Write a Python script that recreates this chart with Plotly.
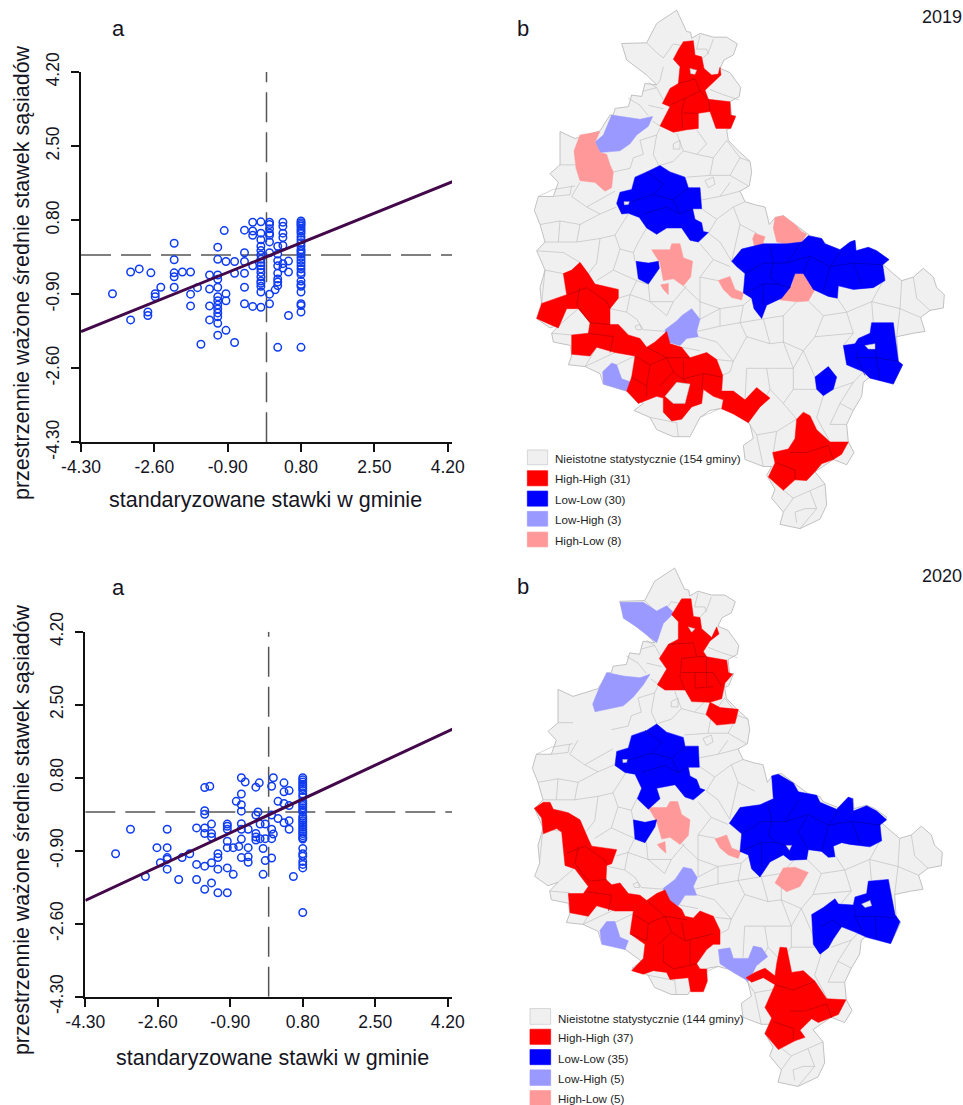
import plotly.graph_objects as go

W, H = 963, 1105
TICK_VALS = [-4.3, -2.6, -0.9, 0.8, 2.5, 4.2]
TICK_TEXT = ["-4.30", "-2.60", "-0.90", "0.80", "2.50", "4.20"]
Y_TITLE = "przestrzennie ważone średnie stawek sąsiadów"
X_TITLE = "standaryzowane stawki w gminie"

LINE_2019_X = [-4.3, 4.33]
LINE_2019_Y = [-1.76, 1.69]
LINE_2020_X = [-4.3, 4.33]
LINE_2020_Y = [-2.06, 1.94]

POINTS_2019 = [
 (-3.57,-0.89),(-3.15,-0.39),(-2.95,-0.32),(-3.15,-1.49),(-2.75,-1.31),(-2.75,-1.39),(-2.68,-0.41),
 (-2.45,-0.74),(-2.58,-0.89),(-2.58,-0.96),(-2.14,0.27),(-2.14,-0.11),(-2.14,-0.41),(-2.14,-0.5),
 (-2.14,-0.74),(-1.95,-0.39),(-1.76,-0.39),(-1.76,-0.9),(-1.76,-1.17),(-1.6,-0.75),(-1.32,-0.46),
 (-1.32,-0.78),(-1.32,-1.17),(-1.32,-1.49),(-1.52,-2.05),(-1.13,0.18),(-1.13,-0.1),(-1.13,-0.46),
 (-1.13,-0.56),(-1.13,-0.74),(-1.13,-0.96),(-1.13,-1.05),(-1.13,-1.15),(-1.13,-1.24),(-1.13,-1.33),
 (-1.13,-1.42),(-1.13,-1.57),(-1.13,-1.84),(-0.98,0.56),(-0.94,-0.15),(-0.94,-0.89),(-0.94,-1.05),
 (-0.94,-1.73),(-0.74,-0.15),(-0.74,-0.42),(-0.74,-2.01),(-0.51,0.57),(-0.51,0.05),(-0.51,-0.15),
 (-0.51,-0.42),(-0.51,-0.74),(-0.51,-1.12),(-0.32,0.75),(-0.32,0.55),(-0.32,0.45),(-0.32,-0.25),
 (-0.32,-1.18),(-0.13,0.76),(-0.13,0.5),(-0.13,0.35),(-0.13,0.2),(-0.13,0.1),(-0.13,0.0),(-0.13,-0.1),
 (-0.13,-0.18),(-0.13,-0.25),(-0.13,-0.32),(-0.13,-0.4),(-0.13,-0.5),(-0.13,-0.6),(-0.13,-0.65),
 (-0.13,-0.72),(-0.13,-0.85),(-0.13,-1.2),(0.07,0.75),(0.07,0.7),(0.07,0.6),(0.07,0.5),(0.07,0.45),
 (0.07,0.3),(0.07,0.05),(0.07,-0.9),(0.07,-1.12),(0.2,-0.8),(0.26,0.2),(0.26,0.02),(0.26,-0.13),
 (0.26,-0.25),(0.26,-0.42),(0.26,-0.55),(0.26,-0.62),(0.26,-0.7),(0.26,-2.12),(0.38,0.75),(0.38,0.66),
 (0.38,0.5),(0.38,0.4),(0.38,0.22),(0.38,-0.2),(0.38,-0.3),(0.51,-0.14),(0.51,-0.39),(0.51,-1.39),
 (0.8,0.78),(0.8,0.74),(0.8,0.7),(0.8,0.66),(0.8,0.6),(0.8,0.55),(0.8,0.5),(0.8,0.42),(0.8,0.35),
 (0.8,0.28),(0.8,0.2),(0.8,0.12),(0.8,0.08),(0.8,0.03),(0.8,-0.05),(0.8,-0.12),(0.8,-0.18),(0.8,-0.25),
 (0.8,-0.32),(0.8,-0.4),(0.8,-0.45),(0.8,-0.6),(0.8,-0.68),(0.8,-0.72),(0.8,-0.85),(0.8,-1.12),
 (0.8,-1.16),(0.8,-1.31),(0.8,-2.12),
]

POINTS_2020 = [
 (-3.59,-0.97),(-3.24,-0.4),(-2.89,-1.5),(-2.62,-0.83),(-2.54,-1.18),(-2.38,-0.4),(-2.38,-0.83),
 (-2.38,-1.06),(-2.38,-1.1),(-2.38,-1.33),(-2.11,-1.57),(-2.03,-1.06),(-1.85,-0.97),(-1.69,-0.37),
 (-1.69,-1.22),(-1.69,-1.57),(-1.5,0.57),(-1.5,0.03),(-1.5,-0.05),(-1.5,-0.37),(-1.5,-0.5),(-1.5,-1.26),
 (-1.5,-1.8),(-1.38,0.6),(-1.34,-0.28),(-1.34,-0.5),(-1.34,-0.58),(-1.34,-1.18),(-1.34,-1.65),
 (-1.19,-0.97),(-1.19,-1.06),(-1.19,-1.33),(-1.19,-1.88),(-0.97,-0.28),(-0.97,-0.33),(-0.97,-0.4),
 (-0.97,-0.68),(-0.97,-0.83),(-0.97,-1.3),(-0.97,-1.88),(-0.83,-1.45),(-0.83,-0.83),(-0.76,0.25),
 (-0.7,-0.8),(-0.64,0.8),(-0.64,0.42),(-0.64,0.17),(-0.64,0.02),(-0.64,-0.27),(-0.64,-0.4),(-0.64,-0.63),
 (-0.64,-1.06),(-0.55,0.7),(-0.48,-0.4),(-0.48,-0.83),(-0.48,-1.04),(-0.48,-1.17),(-0.3,0.58),(-0.3,-0.07),
 (-0.3,-0.5),(-0.3,-0.58),(-0.3,-0.65),(-0.22,0.68),(-0.25,0.0),(-0.2,-0.28),(-0.2,-0.62),(-0.13,-0.85),
 (-0.13,-1.45),(-0.08,-1.13),(-0.08,-0.28),(-0.08,-0.62),(0.07,0.6),(0.07,-0.07),(0.07,-0.4),(0.07,-0.62),
 (0.11,0.8),(0.07,-1.07),(0.11,-0.51),(0.22,0.25),(0.22,-0.15),(0.36,0.68),(0.36,0.47),(0.36,0.2),
 (0.36,-0.25),(0.48,0.5),(0.48,0.15),(0.48,-0.2),(0.48,-0.4),(0.58,-1.5),
 (0.8,0.8),(0.8,0.75),(0.8,0.7),(0.8,0.65),(0.8,0.6),(0.8,0.55),(0.8,0.5),(0.8,0.42),(0.8,0.35),(0.8,0.25),
 (0.8,0.2),(0.8,0.15),(0.8,0.1),(0.8,0.05),(0.8,0.0),(0.8,-0.1),(0.8,-0.15),(0.8,-0.2),(0.8,-0.25),
 (0.8,-0.3),(0.8,-0.35),(0.8,-0.4),(0.8,-0.45),(0.8,-0.5),(0.8,-0.55),(0.8,-0.6),(0.8,-0.63),(0.8,-0.85),
 (0.8,-0.97),(0.8,-1.03),(0.8,-1.15),(0.8,-1.22),(0.8,-1.3),(0.8,-2.34),
]

# Map outline and municipality boundaries (shared by both years)
OUTLINE = [(530,29),(548,66),(560,90),(572,92),(575,109),(600,95),(640,106),(680,106),(712,125),(700,157),(672,171),(660,195),(690,207),
 (722,249),(718,275),(690,290),(695,330),(707,330),(692,365),(680,370),(685,400),(715,430),(750,460),(755,490),(748,530),
 (720,545),(735,575),(770,585),(795,590),(808,640),(825,620),(850,615),(885,640),(920,665),(930,672),(965,680),(975,695),
 (1020,712),(1050,690),(1065,685),(1068,715),(1105,705),(1130,715),(1167,740),(1150,755),(1180,780),(1205,800),(1240,790),
 (1270,765),(1300,790),(1310,820),(1333,840),(1330,878),(1290,885),(1262,905),(1275,945),(1240,950),(1190,960),(1195,1030),
 (1208,1040),(1180,1095),(1110,1075),(1090,1090),(1085,1130),(1060,1170),(1040,1210),(1045,1260),(1062,1290),(1040,1325),
 (1000,1310),(945,1345),(975,1380),(980,1440),(960,1480),(900,1507),(840,1495),(850,1460),(815,1420),(825,1395),(800,1355),
 (815,1330),(790,1330),(735,1310),(730,1270),(760,1250),(750,1210),(720,1180),(660,1165),(630,1170),(600,1190),(570,1245),
 (520,1245),(470,1225),(450,1190),(402,1170),(430,1150),(380,1115),(310,1095),(300,1065),(255,1045),(205,1040),(215,1015),
 (212,985),(160,975),(155,950),(180,925),(150,935),(110,908),(125,870),(120,820),(135,770),(110,715),(135,690),(120,640),
 (103,600),(115,560),(160,560),(175,520),(150,495),(180,470),(180,375),(225,395),(300,373),(330,328),(340,328),(345,309),(385,304),
 (395,271),(425,275),(435,238),(470,242),(440,214),(380,171),(365,124),(440,122),(470,67),(510,40)]

BOUNDARIES = [
 [(440,122),(470,150),(490,165),(520,125),(545,130)],[(490,190),(480,230),(470,242)],[(600,100),(590,140),(620,140),(625,155)],[(640,112),(625,150),(605,170)],
 [(630,255),(670,270),(718,285)],[(430,260),(470,250),(490,285)],[(445,235),(470,250)],[(385,280),(420,300),(445,330)],
 [(445,300),(490,310)],[(458,345),(480,360)],[(420,400),(470,385),(480,365)],[(470,385),(460,440),(480,480)],
 [(420,400),(430,440),(400,450),(390,480),(340,490)],[(590,370),(620,410),(590,440),(640,450),(680,400)],[(530,380),(550,430),(590,440)],
 [(520,410),(540,400),(540,425),(520,425),(520,410)],[(550,430),(520,460),(480,472)],[(640,450),(630,500),(560,505)],
 [(680,400),(720,450),(750,460)],[(720,450),(690,500),(630,500)],[(690,500),(745,530)],[(615,515),(640,505),(645,525),(625,535),(615,515)],
 [(605,570),(660,560),(690,520)],[(660,560),(720,545)],[(605,595),(650,625),(700,590),(735,575)],[(650,625),(625,665)],
 [(700,590),(720,640),(770,665)],[(720,640),(695,745)],[(625,665),(660,690),(695,745)],[(600,695),(640,740),(690,760)],
 [(640,740),(600,790),(655,800)],[(180,470),(225,470)],[(225,530),(160,540),(115,560)],[(160,560),(210,555),(215,530)],
 [(240,520),(215,560),(260,590),(345,545)],[(260,590),(300,610),(350,590)],[(120,640),(180,630),(240,640),(300,610)],
 [(180,630),(175,690),(135,690)],[(240,640),(230,690),(175,690)],[(230,690),(300,680),(345,670),(385,610)],
 [(345,670),(360,710),(400,720),(415,690),(440,650)],[(300,680),(290,750),(265,780)],[(110,715),(190,720),(240,748)],[(135,770),(190,780)],
 [(360,710),(340,770),(290,800)],[(400,720),(405,745)],[(340,770),(410,800),(440,810)],[(410,800),(390,840),(355,850)],
 [(390,840),(380,890),(330,880)],[(445,810),(450,860),(390,840)],[(450,860),(520,860),(560,815)],[(520,860),(500,900),(450,860)],
 [(380,890),(410,910),(430,940),(500,945)],[(405,930),(420,925),(425,940),(410,940),(405,930)],[(550,815),(600,860),(600,910)],
 [(600,790),(600,860),(660,880),(600,910)],[(660,880),(660,930),(590,945)],[(660,880),(730,870),(755,850)],[(730,870),(720,920),(660,930)],
 [(720,920),(790,910),(850,900),(890,860)],[(790,910),(810,980),(740,960),(720,920)],[(740,960),(700,1030),(650,1025)],
 [(595,960),(650,975),(700,1030)],[(545,990),(600,1000)],[(700,1030),(690,1060),(668,1070)],[(810,980),(850,975),(880,1050),(910,1000),(850,975)],
 [(850,900),(850,975)],[(925,858),(970,900),(945,960),(910,1000)],[(970,900),(1040,890),(1012,850)],[(1040,890),(1060,950),(945,960)],
 [(1060,950),(1030,985)],[(1040,890),(1115,860),(1150,800)],[(1115,860),(1120,920)],[(1115,860),(1200,880),(1190,960)],[(1200,880),(1205,800)],
 [(1200,880),(1262,905)],[(1240,790),(1250,850),(1290,885)],[(880,1050),(880,1110),(850,1150),(890,1195)],[(880,1110),(950,1110)],
 [(800,1050),(880,1050)],[(740,1050),(800,1050),(810,1110),(850,1150)],[(740,1050),(735,1140)],[(810,1110),(780,1160)],[(945,1075),(910,1000)],
 [(1000,1110),(1060,1090),(1090,1060)],[(1060,1090),(1020,1150),(1060,1170)],[(970,1128),(950,1190),(990,1260)],[(1020,1150),(990,1210),(1040,1210)],
 [(745,1205),(770,1240),(830,1230),(890,1195)],[(830,1230),(820,1290)],[(770,1240),(790,1330)],[(450,1190),(530,1205)],[(530,1205),(535,1245)],
 [(600,1190),(660,1165)],[(255,1045),(290,990)],[(255,1045),(290,1030),(345,1005)],[(350,1040),(405,1015)],[(180,925),(235,880)],
 [(215,955),(155,950)],[(135,770),(125,865)],[(850,1398),(880,1420),(850,1460)],[(880,1420),(930,1400),(975,1380)],
 [(930,1400),(950,1450),(900,1507)],[(885,1460),(915,1450),(950,1450)],[(885,1460),(890,1490)],
]

# 2019 clusters
HH_2019 = [
 [(550,119),(580,116),(585,157),(605,162),(612,195),(635,214),(655,211),(660,192),(663,214),(640,236),(615,257),(625,283),(690,290),(692,328),(707,332),(692,366),(648,366),(630,318),(595,323),(595,366),(560,370),(520,377),(480,359),(510,304),(487,295),(510,252),(535,238),(540,190),(520,169),(535,142)],
 [(240,748),(265,780),(285,810),(355,825),(355,850),(330,880),(330,925),(355,925),(385,955),(420,965),(440,990),(465,975),(500,945),(510,980),(545,990),(570,1020),(620,1005),(650,1025),(668,1070),(665,1115),(700,1115),(735,1140),(770,1105),(810,1135),(780,1160),(745,1205),(700,1180),(665,1165),(670,1140),(640,1130),(610,1110),(605,1150),(575,1160),(545,1195),(515,1200),(490,1175),(490,1135),(470,1130),(415,1150),(380,1115),(395,1075),(405,1015),(345,1005),(290,990),(270,1015),(215,1010),(215,955),(265,950),(270,920),(235,880),(200,880),(175,935),(150,925),(110,908),(125,865),(200,840),(190,780),(215,770)],
 [(910,1175),(930,1185),(950,1225),(990,1260),(1045,1260),(1025,1295),(1000,1310),(965,1322),(945,1345),(920,1370),(885,1368),(850,1398),(805,1360),(825,1320),(818,1290),(865,1280),(885,1250),(890,1195)],
]
LL_2019 = [
 [(480,472),(510,490),(555,505),(565,535),(600,535),(605,595),(578,595),(585,625),(605,635),(610,660),(625,663),(595,690),(570,685),(545,650),(500,650),(470,668),(440,650),(418,620),(385,608),(365,610),(350,580),(360,548),(395,540),(405,505),(440,490)],
 [(695,745),(725,710),(790,695),(860,695),(905,690),(925,672),(965,680),(975,695),(1020,712),(1050,690),(1065,685),(1068,715),(1105,705),(1130,715),(1167,740),(1148,755),(1155,800),(1120,820),(1060,825),(1015,815),(1012,850),(985,845),(940,825),(910,780),(885,780),(870,820),(845,850),(800,870),(785,908),(762,880),(755,850),(730,835),(735,780),(710,760)],
 [(408,745),(445,750),(475,745),(478,765),(445,810),(415,795)],
 [(1115,920),(1180,920),(1195,1030),(1208,1040),(1180,1095),(1110,1078),(1090,1060),(1040,1040),(1030,985),(1065,980),(1075,965),(1110,950)],
 [(985,1045),(1010,1075),(1000,1110),(970,1128),(950,1110),(945,1075)],
]
LH_2019 = [
 [(335,328),(380,335),(420,340),(458,332),(445,360),(410,385),(390,410),(360,430),(300,435),(285,405),(310,385)],
 [(495,940),(530,915),(545,900),(575,880),(600,910),(590,945),(595,960),(560,965),(540,985),(502,975)],
 [(335,1035),(350,1040),(365,1080),(395,1090),(380,1115),(310,1095),(308,1060)],
]
HL_2019 = [
 [(300,375),(285,405),(300,435),(320,440),(330,470),(340,490),(335,535),(315,545),(285,520),(240,515),(228,480),(222,430),(240,385)],
 [(825,620),(850,615),(885,640),(905,660),(920,668),(905,690),(860,695),(830,690),(820,650)],
 [(765,665),(795,675),(785,705),(765,710),(758,680)],
 [(885,778),(910,780),(945,825),(925,858),(890,860),(840,855),(860,825),(875,815)],
 [(655,800),(690,788),(705,825),(730,835),(725,855),(695,848),(670,825)],
 [(455,712),(510,712),(515,695),(540,695),(550,735),(578,745),(572,790),(550,815),(520,795),(490,800),(480,750)],
 [(482,812),(505,808),(505,840),(490,825)],
]
HOLES_2019 = [
 [(570,195),(590,200),(585,212),(572,210)],[(372,575),(388,575),(385,583),(373,584)],
 [(495,1130),(530,1090),(570,1095),(555,1150),(520,1150)],[(1095,985),(1125,980),(1125,995),(1105,995)],
]
RED_LINES_2019 = [
 [(535,238),(585,225),(600,260),(555,280),(545,320),(548,366)],[(510,300),(555,280)],[(600,260),(625,283)],[(550,322),(595,323)],[(630,318),(625,283)],
 [(205,840),(260,820),(320,860),(330,880)],[(240,820),(230,870),(270,920),(330,925)],[(265,950),(340,960),(330,1005)],[(440,990),(500,1020),(570,1020)],
 [(405,1015),(450,1040),(500,1020),(520,1060),(480,1100)],[(450,1040),(440,1100),(395,1075)],[(440,1100),(440,1130)],[(520,1060),(560,1090)],
 [(550,1030),(550,1080),(610,1065),(665,1075)],[(610,1065),(605,1110)],[(870,1290),(920,1290),(985,1270),(1000,1310)],[(830,1320),(885,1340),(885,1368)],
]
BLUE_LINES_2019 = [
 [(395,575),(460,555),(520,570),(565,535)],[(460,555),(490,525),(440,490)],[(520,570),(540,610),(578,595)],[(430,610),(500,590),(540,610)],
 [(735,780),(790,750),(860,750),(905,690)],[(810,700),(820,750),(810,790),(835,810)],[(735,835),(790,810),(835,810),(870,820)],
 [(860,750),(930,730),(990,760),(1060,750),(1148,755)],[(990,760),(1020,720)],[(1060,750),(1085,810)],[(930,730),(910,780)],[(990,760),(970,830)],[(790,810),(790,870)],
 [(1070,1020),(1130,1020),(1195,1030)],[(1130,1020),(1140,1085)],[(1075,1000),(1070,1020),(1095,1070)],[(1125,995),(1130,1020)],
]

# 2020 clusters
HH_2020 = [
 [(545,125),(573,125),(580,175),(600,178),(605,210),(635,235),(650,205),(657,225),(630,245),(610,275),(620,290),(680,300),(685,335),(698,340),(675,365),(665,410),(630,420),(660,435),(715,440),(705,480),(650,485),(618,455),(630,420),(575,418),(555,385),(495,385),(472,370),(500,325),(478,295),(505,255),(535,240),(535,190),(515,170)],
 [(103,722),(130,705),(150,705),(160,725),(205,735),(240,755),(265,810),(275,830),(350,840),(335,880),(320,885),(318,925),(335,940),(360,935),(385,965),(420,970),(440,985),(470,965),(495,955),(510,985),(545,1010),(555,1030),(580,1035),(600,1015),(640,1030),(660,1070),(660,1110),(640,1110),(620,1125),(590,1165),(600,1180),(620,1180),(622,1215),(610,1245),(572,1245),(565,1205),(510,1210),(500,1190),(460,1185),(430,1195),(395,1185),(430,1150),(435,1110),(390,1080),(400,1015),(345,1015),(290,1000),(265,1030),(210,1020),(205,965),(250,965),(265,945),(225,895),(195,885),(185,790),(170,780),(130,795),(125,750)],
 [(840,1118),(860,1120),(875,1190),(910,1185),(945,1215),(980,1265),(1038,1268),(1015,1310),(955,1333),(935,1322),(900,1355),(915,1375),(885,1385),(835,1410),(795,1365),(815,1320),(795,1290),(825,1225),(790,1205),(755,1218),(738,1205),(765,1190),(795,1178),(825,1200),(830,1165)],
]
LL_2020 = [
 [(470,482),(500,505),(550,520),(555,545),(595,545),(598,605),(565,605),(570,630),(590,640),(600,665),(615,670),(580,698),(555,690),(525,655),(470,665),(480,695),(445,725),(412,695),(425,665),(405,625),(375,620),(345,600),(350,560),(385,550),(395,515),(440,500)],
 [(815,630),(835,625),(880,650),(895,675),(950,685),(960,705),(1010,725),(1045,690),(1058,695),(1060,730),(1100,715),(1130,730),(1160,755),(1140,770),(1145,815),(1110,832),(1050,825),(1025,820),(1000,830),(1005,860),(985,862),(965,845),(925,840),(920,868),(870,870),(850,855),(810,875),(780,918),(755,895),(745,855),(720,845),(725,795),(688,765),(720,720),(780,712),(820,695)],
 [(400,755),(435,762),(470,755),(465,775),(435,820),(405,810)],
 [(1105,930),(1165,925),(1185,1025),(1200,1045),(1172,1108),(1100,1090),(1065,1075),(1025,1060),(1000,1095),(985,1120),(960,1138),(940,1110),(935,1025),(970,1005),(1005,980),(1015,995),(1060,998),(1065,975),(1100,965)],
]
LH_2020 = [
 [(360,135),(430,135),(470,160),(500,145),(522,165),(490,195),(470,250),(410,205),(370,180)],
 [(320,335),(370,345),(420,350),(450,340),(430,370),(400,405),(370,430),(285,447),(278,425),(295,385)],
 [(490,950),(525,925),(550,890),(575,895),(592,920),(580,945),(590,970),(555,970),(535,1000),(500,985)],
 [(320,1045),(345,1045),(360,1090),(385,1100),(375,1125),(305,1110),(300,1070)],
 [(655,1125),(690,1120),(700,1150),(745,1150),(760,1115),(785,1120),(803,1145),(770,1170),(745,1215),(700,1190),(660,1165)],
]
HL_2020 = [
 [(445,720),(500,720),(510,703),(533,703),(545,740),(570,755),(565,800),(540,825),(510,805),(485,810),(470,760)],
 [(472,825),(495,817),(498,850),(480,835)],
 [(645,810),(680,798),(695,835),(722,845),(715,865),(685,855),(660,835)],
 [(850,892),(885,890),(925,905),(900,945),(860,960),(825,935)],
]
HOLES_2020 = [
 [(565,205),(585,210),(575,220)],[(368,583),(382,583),(380,591),(369,592)],
 [(858,828),(875,828),(868,842)],[(1085,995),(1110,985),(1115,1000),(1095,1005)],
]
RED_LINES_2020 = [
 [(505,255),(580,250),(590,290),(545,295),(540,350),(555,385)],[(545,335),(640,335),(665,375)],[(590,290),(620,290),(620,375)],[(585,335),(585,380),(640,375)],
 [(200,850),(255,830),(315,870),(320,885)],[(235,830),(225,880),(265,930),(320,925)],[(260,960),(335,970),(325,1015)],[(440,985),(495,1030),(560,1040)],
 [(400,1025),(445,1050),(495,1030),(515,1075),(475,1110)],[(445,1050),(440,1100),(390,1080)],[(515,1075),(555,1100),(545,1045)],[(555,1100),(640,1080)],
 [(490,1110),(490,1160),(520,1180),(570,1170)],[(570,1100),(570,1170),(590,1165)],[(870,1300),(915,1300),(980,1280),(995,1320)],[(820,1330),(880,1350),(880,1380)],[(825,1225),(880,1240),(945,1215)],
]
BLUE_LINES_2020 = [
 [(385,585),(455,565),(515,580),(555,545)],[(455,565),(485,535),(435,500)],[(515,580),(535,620),(565,605)],[(425,620),(495,600),(535,620)],
 [(725,795),(785,760),(855,760),(895,700)],[(805,710),(815,760),(805,800),(830,820)],[(720,845),(785,820),(830,820),(865,830)],
 [(855,760),(925,740),(985,770),(1055,760),(1140,770)],[(985,770),(1015,730)],[(1055,760),(1080,820)],[(925,740),(895,790),(925,840)],[(985,770),(965,845)],[(785,820),(785,890)],
 [(1065,1030),(1125,1030),(1185,1035)],[(1125,1030),(1130,1095)],[(1065,1005),(1065,1030),(1090,1080)],[(1000,1040),(1025,1060)],[(960,1060),(1000,1040)],
]

LEGEND_COLORS = ["#f0f0f0", "#ff0000", "#0000ff", "#9999ff", "#ff9999"]
LEGEND_LABELS_2019 = ["Nieistotne statystycznie (154 gminy)", "High-High (31)", "Low-Low (30)", "Low-High (3)", "High-Low (8)"]
LEGEND_LABELS_2020 = ["Nieistotne statystycznie (144 gminy)", "High-High (37)", "Low-Low (35)", "Low-High (5)", "High-Low (5)"]

FONT = "Liberation Sans, Arial, sans-serif"
INK = "#15151f"


def px_x(a, b):
    return [a / W, b / W]


def px_y(top, bottom):
    return [1 - bottom / H, 1 - top / H]


def flatten(rings, dx=0, dy=0, close=True):
    xs, ys = [], []
    for r in rings:
        pts = list(r) + ([r[0]] if close else [])
        xs += [p[0] + dx for p in pts] + [None]
        ys += [p[1] + dy for p in pts] + [None]
    return xs, ys


fig = go.Figure()


def add_scatter(points, lx, ly, suf):
    ax = dict(xaxis="x" + suf, yaxis="y" + suf, hoverinfo="skip", showlegend=False)
    fig.add_trace(go.Scatter(x=[0, 0], y=[-4.3, 4.2], mode="lines",
                             line=dict(color="#555", width=1.5, dash="30px,10px"), **ax))
    fig.add_trace(go.Scatter(x=[-4.3, 4.3], y=[0, 0], mode="lines",
                             line=dict(color="#555", width=1.5, dash="30px,10px"), **ax))
    fig.add_trace(go.Scatter(x=[p[0] for p in points], y=[p[1] for p in points], mode="markers",
                             marker=dict(symbol="circle-open", size=7.5, color="#0f3cf0", line=dict(width=1.5, color="#0f3cf0")), **ax))
    fig.add_trace(go.Scatter(x=lx, y=ly, mode="lines", line=dict(color="#42084a", width=3), **ax))


def add_poly(rings, color, suf, line, lw=0.6, dx=0, dy=0):
    x, y = flatten(rings, dx, dy)
    fig.add_trace(go.Scatter(x=x, y=y, mode="lines", fill="toself", fillcolor=color,
                             line=dict(color=line, width=lw), xaxis="x" + suf, yaxis="y" + suf,
                             hoverinfo="skip", showlegend=False))


def add_lines(lines, color, suf, lw=0.6, dx=0, dy=0):
    x, y = flatten(lines, dx, dy, close=False)
    fig.add_trace(go.Scatter(x=x, y=y, mode="lines", line=dict(color=color, width=lw),
                             xaxis="x" + suf, yaxis="y" + suf, hoverinfo="skip", showlegend=False))


def add_map(suf, dx, dy, hh, ll, lh, hl, holes, red, blue):
    add_poly([OUTLINE], "#f0f0f0", suf, "#b4b4b4", 0.8, dx, dy)
    add_lines(BOUNDARIES, "#b8b8b8", suf, 0.6, dx, dy)
    add_poly(lh, "#9999ff", suf, "#9999ff", 0.5)
    add_poly(hl, "#ff9999", suf, "#ff9999", 0.5)
    add_poly(ll, "#0000ff", suf, "#0000ff", 0.5)
    add_poly(hh, "#ff0000", suf, "#ff0000", 0.5)
    add_lines(red, "#a80000", suf, 0.6)
    add_lines(blue, "#0000a0", suf, 0.6)
    add_poly(holes, "#f0f0f0", suf, "#b4b4b4", 0.5)


add_scatter(POINTS_2019, LINE_2019_X, LINE_2019_Y, "")
add_map("2", 0, 0, HH_2019, LL_2019, LH_2019, HL_2019, HOLES_2019, RED_LINES_2019, BLUE_LINES_2019)
add_scatter(POINTS_2020, LINE_2020_X, LINE_2020_Y, "3")
add_map("4", -6, 8, HH_2020, LL_2020, LH_2020, HL_2020, HOLES_2020, RED_LINES_2020, BLUE_LINES_2020)


def sc_axis(domain, anchor, angle=0, standoff=0):
    return dict(domain=domain, anchor=anchor, range=None, tickvals=TICK_VALS, ticktext=TICK_TEXT, tickangle=angle,
                ticks="outside", ticklen=8, tickwidth=1.5, tickcolor="#111", showline=True, linewidth=2, linecolor="#111",
                showgrid=False, zeroline=False, ticklabelstandoff=standoff, tickfont=dict(family=FONT, size=17.5, color=INK))


def map_axis(domain, anchor, rng):
    return dict(domain=domain, anchor=anchor, range=rng, visible=False, fixedrange=True)


xa1 = sc_axis(px_x(81, 452), "y"); xa1["range"] = [-4.3, 4.3]
ya1 = sc_axis(px_y(72, 442.3), "x", -90, 5); ya1["range"] = [-4.3, 4.2]
xa3 = sc_axis(px_x(85.3, 452), "y3"); xa3["range"] = [-4.3, 4.3]
ya3 = sc_axis(px_y(631.7, 996.7), "x3", -90, 5); ya3["range"] = [-4.3, 4.2]

shapes = []
annotations = []


def ann(x, y, text, size, angle=0, anchor="center"):
    annotations.append(dict(x=x / W, y=1 - y / H, xref="paper", yref="paper", text=text, showarrow=False,
                            textangle=angle, xanchor=anchor, yanchor="middle",
                            font=dict(family=FONT, size=size, color=INK)))


def legend(suf, x0, x1, tops, bots, tx, cy, labels):
    for c, t, b, cyy, lab in zip(LEGEND_COLORS, tops, bots, cy, labels):
        shapes.append(dict(type="rect", xref="x" + suf, yref="y" + suf, x0=x0, x1=x1, y0=t, y1=b, fillcolor=c,
                           line=dict(color="#c8c8c8" if c == "#f0f0f0" else c, width=0.7), layer="above"))
        annotations.append(dict(x=tx, y=cyy, xref="x" + suf, yref="y" + suf, text=lab, showarrow=False, xanchor="left",
                                yanchor="middle", font=dict(family=FONT, size=11.6, color="#222")))


legend("2", 82, 143, [1283, 1342, 1400, 1458, 1517], [1325, 1385, 1443, 1500, 1559], 160, [1308, 1365, 1423, 1482, 1540], LEGEND_LABELS_2019)
legend("4", 90, 152, [1293, 1352, 1410, 1468, 1527], [1338, 1395, 1453, 1512, 1568], 168, [1320, 1376, 1434, 1492, 1550], LEGEND_LABELS_2020)

ann(118, 28, "a", 22); ann(523, 28, "b", 22); ann(942, 17, "2019", 18)
ann(118, 587, "a", 22); ann(523, 586, "b", 22); ann(942, 576, "2020", 18)
ann(22, 273, Y_TITLE, 21.5, -90); ann(265, 500, X_TITLE, 21.5)
ann(22, 830, Y_TITLE, 21.3, -90); ann(272, 1058, X_TITLE, 21.5)

fig.update_layout(
    width=W, height=H, autosize=False, margin=dict(l=0, r=0, t=0, b=0, pad=0, autoexpand=False),
    paper_bgcolor="white", plot_bgcolor="white", showlegend=False,
    xaxis=xa1, yaxis=ya1, xaxis3=xa3, yaxis3=ya3,
    xaxis2=map_axis(px_x(500, 963), "y2", [0, 1389]), yaxis2=map_axis(px_y(0, 550), "x2", [1568, 0]),
    xaxis4=map_axis(px_x(500, 963), "y4", [0, 1389]), yaxis4=map_axis(px_y(555, 1105), "x4", [1568, 0]),
    shapes=shapes, annotations=annotations,
)

fig.write_html("out.html", config={"displayModeBar": False},
               post_script="document.body.style.margin='0';")
